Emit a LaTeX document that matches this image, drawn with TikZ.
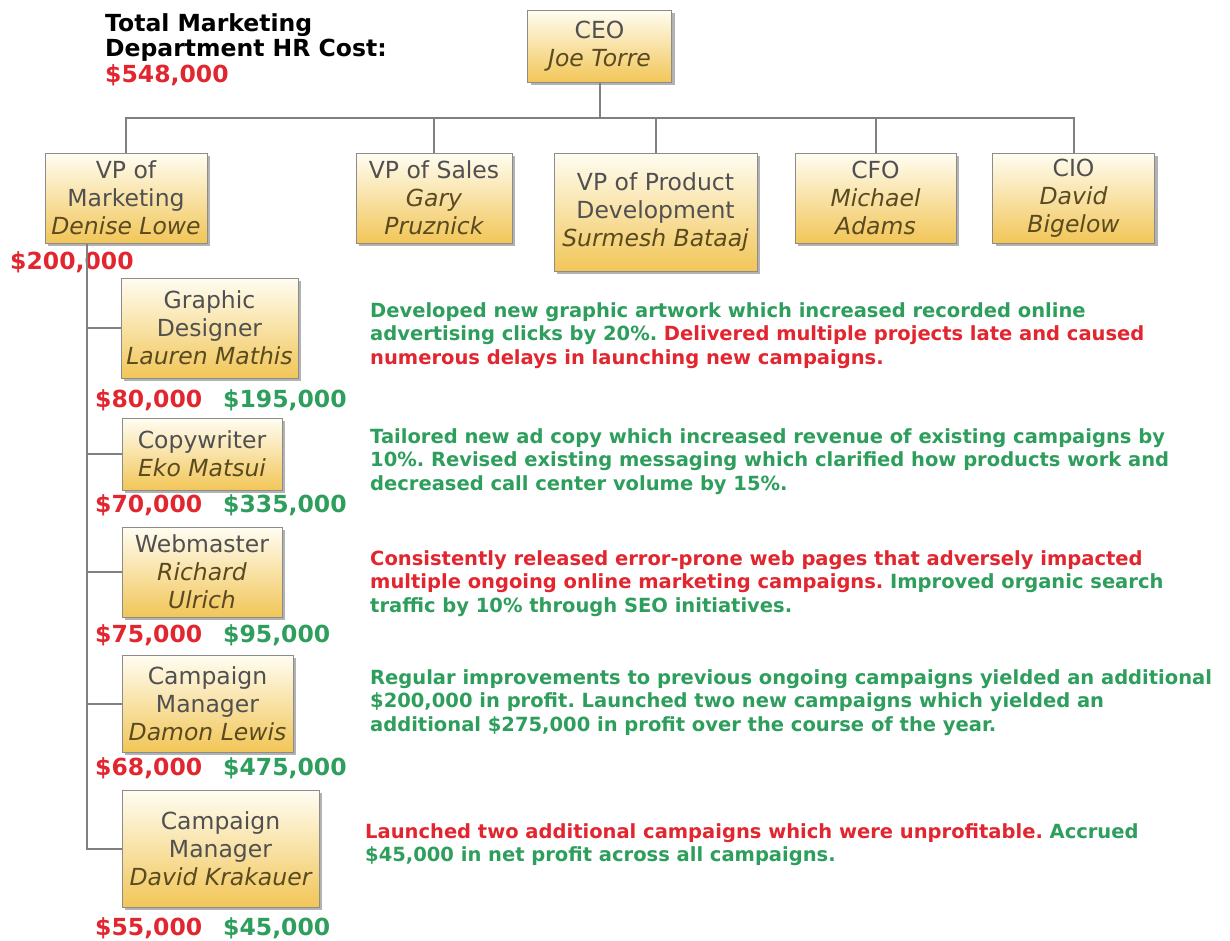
\documentclass[tikz,border=0pt]{standalone}
\usepackage{fontspec}
\setmainfont{DejaVu Sans}
\frenchspacing
\usetikzlibrary{shadows}
\definecolor{cred}{HTML}{E2262F}
\definecolor{cgreen}{HTML}{2E9E5C}
\definecolor{boxtop}{HTML}{FFFDF2}
\definecolor{boxbot}{HTML}{F2C658}
\definecolor{boxline}{HTML}{8C8C8C}
\definecolor{boxtext}{HTML}{505050}
\definecolor{nametext}{HTML}{5A4A20}
\definecolor{linegray}{HTML}{808080}
\newcommand{\nm}[1]{{\itshape\color{nametext}#1}}
\tikzset{
 orgbox/.style={draw=boxline, line width=1pt, top color=boxtop, bottom color=boxbot,
   drop shadow={shadow xshift=3pt, shadow yshift=-3pt, fill=black!50, opacity=0.6},
   align=center, inner sep=0pt, font=\fontsize{23.5}{28}\selectfont, text=boxtext},
 link/.style={draw=linegray, line width=2pt},
 money/.style={font=\bfseries\fontsize{23.5}{26}\selectfont, anchor=west, inner sep=0pt},
 desc/.style={font=\bfseries\fontsize{19.5}{23.5}\selectfont, anchor=base west, align=left, inner sep=0pt},
}
\begin{document}
\begin{tikzpicture}[x=1pt,y=-1pt]
\useasboundingbox[fill=white] (0,0) rectangle (1230,940);
% title (anchor = baseline of last line)
\node[anchor=base west, align=left, inner sep=0pt, font=\bfseries\fontsize{23.5}{25.5}\selectfont] (title) at (105,82)
  {Total Marketing\\Department HR Cost:\\\textcolor{cred}{\$548,000}};
% top level
\node[orgbox, minimum width=144pt, minimum height=72pt] (ceo) at (599.5,46) {CEO\\\nm{Joe Torre}};
\node[orgbox, minimum width=162pt, minimum height=90pt] (vpm) at (126,198) {VP of\\Marketing\\\nm{Denise Lowe}};
\node[orgbox, minimum width=156pt, minimum height=90pt] (vps) at (434,198) {VP of Sales\\\nm{Gary}\\\nm{Pruznick}};
\node[orgbox, minimum width=203pt, minimum height=118pt] (vpp) at (655.5,212) {VP of Product\\Development\\\nm{Surmesh Bataaj}};
\node[orgbox, minimum width=161pt, minimum height=90pt] (cfo) at (875.5,198) {CFO\\\nm{Michael}\\\nm{Adams}};
\node[orgbox, minimum width=162pt, minimum height=90pt] (cio) at (1073.5,198) {CIO\\\nm{David}\\\nm{Bigelow}};
\coordinate (bus) at (0,118);
\draw[link] (ceo.south) -- (ceo.south |- bus);
\draw[link] (vpm.north) -- (vpm.north |- bus) -- (cio.north |- bus) -- (cio.north);
\draw[link] (vps.north) -- (vps.north |- bus);
\draw[link] (vpp.north) -- (vpp.north |- bus);
\draw[link] (cfo.north) -- (cfo.north |- bus);
\node[money, text=cred] (m0) at (10,262) {\$200,000};
% subordinates
\node[orgbox, minimum width=177pt, minimum height=100pt] (gd) at (209.5,328) {Graphic\\Designer\\\nm{Lauren Mathis}};
\node[orgbox, minimum width=160pt, minimum height=72pt] (cw) at (202,454) {Copywriter\\\nm{Eko Matsui}};
\node[orgbox, minimum width=160pt, minimum height=90pt] (wm) at (202,572) {Webmaster\\\nm{Richard}\\\nm{Ulrich}};
\node[orgbox, minimum width=171pt, minimum height=97pt] (cma) at (207.5,703.5) {Campaign\\Manager\\\nm{Damon Lewis}};
\node[orgbox, minimum width=197pt, minimum height=117pt] (cmb) at (220.5,848.5) {Campaign\\Manager\\\nm{David Krakauer}};
\coordinate (tx) at (87,0);
\draw[link] (vpm.south -| tx) |- (cmb.west);
\draw[link] (tx |- gd.west) -- (gd.west);
\draw[link] (tx |- cw.west) -- (cw.west);
\draw[link] (tx |- wm.west) -- (wm.west);
\draw[link] (tx |- cma.west) -- (cma.west);
% money
\node[money, text=cred] (m1a) at (95,400) {\$80,000};
\node[money, text=cgreen] (m1b) at (223,400) {\$195,000};
\node[money, text=cred] (m2a) at (95,505) {\$70,000};
\node[money, text=cgreen] (m2b) at (223,505) {\$335,000};
\node[money, text=cred] (m3a) at (95,635) {\$75,000};
\node[money, text=cgreen] (m3b) at (223,635) {\$95,000};
\node[money, text=cred] (m4a) at (95,768) {\$68,000};
\node[money, text=cgreen] (m4b) at (223,768) {\$475,000};
\node[money, text=cred] (m5a) at (95,928) {\$55,000};
\node[money, text=cgreen] (m5b) at (223,928) {\$45,000};
% descriptions (anchor = baseline of last line)
\node[desc] (d1) at (370,364) {\textcolor{cgreen}{Developed new graphic artwork which increased recorded online}\\
  \textcolor{cgreen}{advertising clicks by 20\%.} \textcolor{cred}{Delivered multiple projects late and caused}\\
  \textcolor{cred}{numerous delays in launching new campaigns.}};
\node[desc, text=cgreen] (d2) at (370,490) {Tailored new ad copy which increased revenue of existing campaigns by\\
  10\%. Revised existing messaging which clarified how products work and\\
  decreased call center volume by 15\%.};
\node[desc] (d3) at (370,612) {\textcolor{cred}{Consistently released error-prone web pages that adversely impacted}\\
  \textcolor{cred}{multiple ongoing online marketing campaigns.} \textcolor{cgreen}{Improved organic search}\\
  \textcolor{cgreen}{traffic by 10\% through SEO initiatives.}};
\node[desc, text=cgreen] (d4) at (370,731) {Regular improvements to previous ongoing campaigns yielded an additional\\
  \$200,000 in profit. Launched two new campaigns which yielded an\\
  additional \$275,000 in profit over the course of the year.};
\node[desc] (d5) at (365,861.5) {\textcolor{cred}{Launched two additional campaigns which were unprofitable.} \textcolor{cgreen}{Accrued}\\
  \textcolor{cgreen}{\$45,000 in net profit across all campaigns.}};
\end{tikzpicture}
\end{document}
